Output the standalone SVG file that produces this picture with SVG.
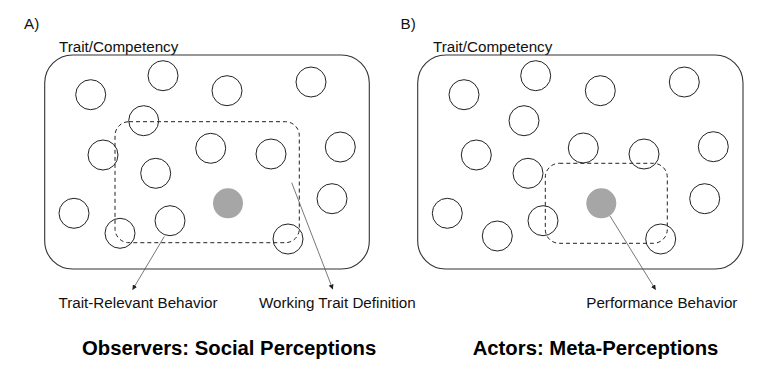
<svg xmlns="http://www.w3.org/2000/svg" width="767" height="376" viewBox="0 0 767 376">
<style>
.t{font-family:"Liberation Sans",Arial,sans-serif;font-size:15.2px;fill:#111}
.h{font-family:"Liberation Sans",Arial,sans-serif;font-size:20.3px;font-weight:bold;fill:#000}
.frame{fill:none;stroke:#333;stroke-width:1.1}
.dash{fill:none;stroke:#222;stroke-width:1;stroke-dasharray:4 3}
.c{fill:none;stroke:#222;stroke-width:1}
.g{fill:#a6a6a6;stroke:none}
.a{stroke:#555;stroke-width:0.8;fill:none;marker-end:url(#ah)}
</style>
<defs>
<marker id="ah" viewBox="0 0 10 10" refX="9" refY="5" markerWidth="5" markerHeight="5" orient="auto" markerUnits="userSpaceOnUse">
<path d="M0,0 L10,5 L0,10 z" fill="#222"/>
</marker>
</defs>
<rect width="767" height="376" fill="#fff"/>
<g id="panelA">
<text class="t" x="24" y="29">A)</text>
<g id="traitA">
<text class="t" x="59" y="52">Trait/Competency</text>
<rect class="frame" x="44.7" y="55" width="324.6" height="214" rx="28" ry="28"/>
</g>
<g id="workingA"><rect class="dash" x="115" y="121.7" width="184.3" height="121" rx="14" ry="14"/></g>
<g id="circlesA">
<circle class="c" cx="90.7" cy="94.7" r="15"/>
<circle class="c" cx="163" cy="75.7" r="15"/>
<circle class="c" cx="227" cy="90.7" r="15"/>
<circle class="c" cx="311" cy="82" r="15"/>
<circle class="c" cx="143.7" cy="120.7" r="15"/>
<circle class="c" cx="103" cy="155" r="15"/>
<circle class="c" cx="210.7" cy="148.3" r="15"/>
<circle class="c" cx="271" cy="154" r="15"/>
<circle class="c" cx="340.3" cy="147" r="15"/>
<circle class="c" cx="155.7" cy="173.3" r="15"/>
<circle class="c" cx="74" cy="213.3" r="15"/>
<circle class="c" cx="120" cy="233.3" r="15"/>
<circle class="c" cx="170" cy="220.7" r="15"/>
<circle class="c" cx="288" cy="239" r="15"/>
<circle class="c" cx="332" cy="198.7" r="15"/>
<circle class="g" cx="228" cy="203.3" r="15"/>
</g>
<g id="labelsA">
<text class="t" x="58.5" y="308">Trait-Relevant Behavior</text>
<text class="t" x="259" y="308">Working Trait Definition</text>
<text class="h" x="82" y="355">Observers: Social Perceptions</text>
</g>
</g>
<g id="panelB">
<text class="t" x="400.5" y="29">B)</text>
<g id="traitB">
<text class="t" x="433" y="52">Trait/Competency</text>
<rect class="frame" x="417.7" y="55" width="325.3" height="214" rx="28" ry="28"/>
</g>
<g id="perfB"><rect class="dash" x="545.3" y="163.3" width="122" height="80" rx="14" ry="14"/></g>
<g id="circlesB">
<circle class="c" cx="464" cy="94.7" r="15"/>
<circle class="c" cx="535.7" cy="75.7" r="15"/>
<circle class="c" cx="600.3" cy="90.7" r="15"/>
<circle class="c" cx="684.3" cy="82" r="15"/>
<circle class="c" cx="524" cy="120.7" r="15"/>
<circle class="c" cx="476.3" cy="155" r="15"/>
<circle class="c" cx="583.3" cy="148" r="15"/>
<circle class="c" cx="644" cy="154" r="15"/>
<circle class="c" cx="713.3" cy="146.7" r="15"/>
<circle class="c" cx="528" cy="173.3" r="15"/>
<circle class="c" cx="447.3" cy="213.3" r="15"/>
<circle class="c" cx="497.3" cy="236" r="15"/>
<circle class="c" cx="543" cy="220.7" r="15"/>
<circle class="c" cx="660.7" cy="239" r="15"/>
<circle class="c" cx="704.7" cy="198.7" r="15"/>
<circle class="g" cx="601.3" cy="203.3" r="15"/>
</g>
<g id="labelsB">
<text class="t" x="586.3" y="308">Performance Behavior</text>
<text class="h" x="472.7" y="355">Actors: Meta-Perceptions</text>
</g>
</g>
<g id="connectors">
<line class="a" x1="164.3" y1="236.5" x2="132.7" y2="289.5"/>
<line class="a" x1="291.7" y1="182.7" x2="332.7" y2="289"/>
<line class="a" x1="610" y1="216" x2="655.5" y2="289.5"/>
</g>
</svg>
